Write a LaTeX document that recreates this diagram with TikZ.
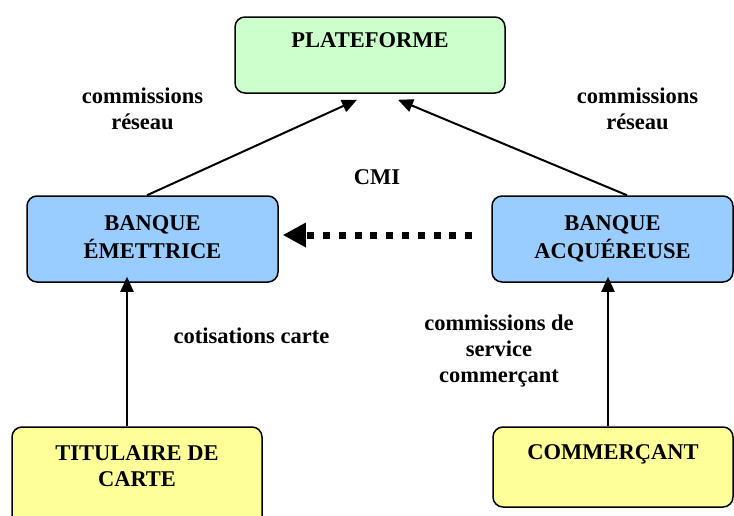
\documentclass[tikz,border=0pt]{standalone}
\usepackage{fontspec}
\setmainfont{Liberation Serif}
\newfontfamily\romain{Liberation Serif}[BoldFont={* Bold}]
\usepackage{xcolor}
\usetikzlibrary{arrows.meta}

\definecolor{vertclair}{RGB}{204,255,204}
\definecolor{bleuclair}{RGB}{153,204,255}
\definecolor{jauneclair}{RGB}{255,255,153}

\begin{document}
\begin{tikzpicture}[x=1pt, y=-1pt,
	every node/.style={font=\romain\bfseries\fontsize{22.5}{26}\selectfont, align=center, inner sep=0pt},
	boite/.style={draw=black, line width=1.5pt, rounded corners=10pt},
	fleche/.style={line width=2pt, -{Triangle[length=15pt,width=13pt]}},
	flux/.style={line width=7pt, dash pattern=on 7pt off 8.8pt, -{Triangle[length=23pt,width=23pt]}}]
	\useasboundingbox (0,0) rectangle (734,515);
	%
	\node[boite, fill=vertclair, minimum width=270pt, minimum height=76pt] (plateforme) at (370,55) {\strut PLATEFORME\\\strut};
	\node[boite, fill=bleuclair, minimum width=251pt, minimum height=86pt] (emettrice) at (152.5,239) {\strut BANQUE\\\strut ÉMETTRICE};
	\node[boite, fill=bleuclair, minimum width=241pt, minimum height=86pt] (acquereuse) at (612.5,239) {\strut BANQUE\\\strut ACQUÉREUSE};
	\node[boite, fill=jauneclair, minimum width=250pt, minimum height=108pt] (titulaire) at (137,481) {\strut TITULAIRE DE\\\strut CARTE\\\strut};
	\node[boite, fill=jauneclair, minimum width=240pt, minimum height=80pt] (commercant) at (613,467) {\strut COMMERÇANT\\\strut};
	%
	\node (reseauG) at (142.5,111) {\strut commissions\\\strut réseau};
	\node (reseauD) at (637.5,111) {\strut commissions\\\strut réseau};
	\node (cmi) at (377,179) {\strut CMI};
	\node (cotisations) at (251.5,338) {\strut cotisations carte};
	\node (service) at (499,351) {\strut commissions de\\\strut service\\\strut commerçant};
	%
	\draw[fleche] ([xshift=-5.5pt]emettrice.north) -- ([xshift=-13pt,yshift=-6pt]plateforme.south);
	\draw[fleche] ([xshift=14.5pt]acquereuse.north) -- ([xshift=28pt,yshift=-6pt]plateforme.south);
	\draw[fleche] ([xshift=-10pt]titulaire.north) -- ([xshift=-10pt,yshift=6pt]titulaire.north |- emettrice.south);
	\draw[fleche] ([xshift=-5pt]commercant.north) -- ([xshift=-5pt,yshift=6pt]commercant.north |- acquereuse.south);
	\draw[flux] ([xshift=-19pt,yshift=4pt]acquereuse.west) -- ([xshift=4pt,yshift=4pt]emettrice.east);
\end{tikzpicture}
\end{document}
